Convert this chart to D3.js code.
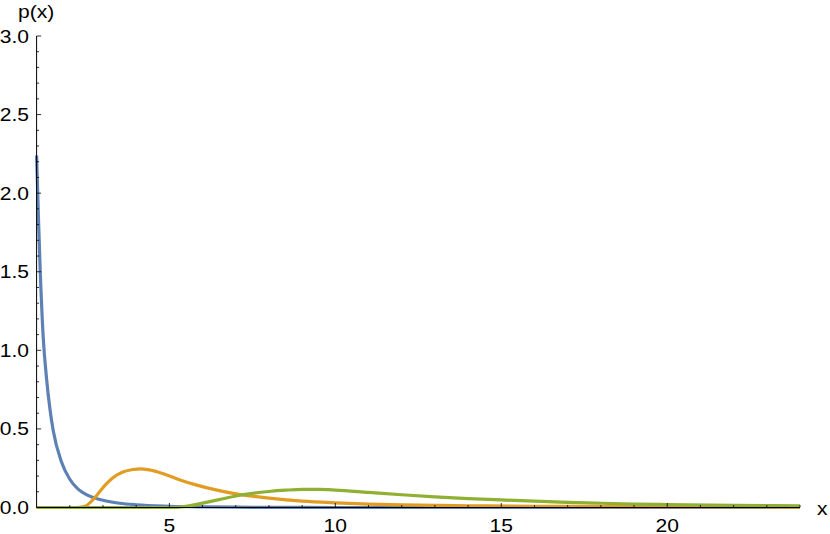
<!DOCTYPE html>
<html><head><meta charset="utf-8">
<script src="https://cdn.jsdelivr.net/npm/d3@7"></script>
<style>
html,body{margin:0;padding:0;background:#fff;}
svg{display:block;font-family:"Liberation Sans",Arial,sans-serif;}
</style></head>
<body>
<svg id="c" width="830" height="534"></svg>
<script>
// ---- data ----
const blueX = [1, 1.05, 1.1, 1.2, 1.3, 1.4, 1.5, 1.75, 2, 2.25, 2.5, 3, 3.5, 4, 5, 6, 7, 8, 10, 24];
const blueY = [2.24, 1.88, 1.56, 1.08, 0.82, 0.63, 0.49, 0.29, 0.18, 0.117, 0.082, 0.046, 0.027, 0.017, 0.008, 0.004, 0.002, 0.001, 0, 0];

const orangeX = [1, 2.2, 2.35, 2.5, 2.7, 2.9, 3.1, 3.3, 3.6, 3.9, 4.15, 4.5, 4.9, 5.3, 5.8, 6.4, 7, 7.5, 8, 9, 10, 11, 12, 14, 16, 18, 20, 24];
const orangeY = [0, 0, 0.002, 0.012, 0.05, 0.1, 0.15, 0.19, 0.226, 0.242, 0.246, 0.235, 0.209, 0.177, 0.144, 0.112, 0.087, 0.072, 0.06, 0.041, 0.03, 0.022, 0.017, 0.011, 0.008, 0.006, 0.005, 0.003];

const greenX = [1, 5.0, 5.3, 5.6, 6.0, 6.5, 7.0, 7.5, 8.0, 8.5, 9.0, 9.5, 10, 11, 12, 13, 14, 15, 16, 17, 18, 19, 20, 22, 24];
const greenY = [0, 0, 0.002, 0.01, 0.028, 0.05, 0.073, 0.09, 0.102, 0.11, 0.115, 0.115, 0.111, 0.096, 0.081, 0.068, 0.057, 0.048, 0.04, 0.033, 0.027, 0.022, 0.019, 0.014, 0.011];

const xMajorTicks = [5, 10, 15, 20];
const yMajorTicks = [0, 0.5, 1.0, 1.5, 2.0, 2.5, 3.0];
const xLabel = "x";
const yLabel = "p(x)";

const series = [
  {name: "blue", xs: blueX, ys: blueY, color: "#5E81B5"},
  {name: "orange", xs: orangeX, ys: orangeY, color: "#E19C24"},
  {name: "green", xs: greenX, ys: greenY, color: "#8FB032"}
];

// ---- layout ----
const svg = d3.select("#c");
const x = d3.scaleLinear().domain([1, 24]).range([36.6, 800]);
const y = d3.scaleLinear().domain([0, 3]).range([507.5, 36]);
const FS = 18, SX = 1.17;

const line = d3.line().x(d => x(d[0])).y(d => y(d[1])).curve(d3.curveMonotoneX);

const plot = svg.append("g");
series.forEach(s => {
  const pts = s.xs.map((v, i) => [v, s.ys[i]]);
  plot.append("path").datum(pts)
    .attr("d", line)
    .attr("fill", "none")
    .attr("stroke", s.color)
    .attr("stroke-width", 3.2)
    .attr("stroke-linejoin", "round")
    .attr("stroke-linecap", "butt");
});

// ---- axes ----
const axes = svg.append("g").attr("stroke", "#000");
axes.append("line").attr("x1", x(1)).attr("x2", x(1)).attr("y1", y(0)).attr("y2", y(3)).attr("stroke-width", 1);
axes.append("line").attr("x1", x(1)).attr("x2", x(24)).attr("y1", y(0)).attr("y2", y(0)).attr("stroke-width", 1);

const yMinor = d3.range(0, 31).map(i => i / 10);
yMinor.forEach(v => {
  const major = yMajorTicks.some(m => Math.abs(m - v) < 1e-9);
  axes.append("line")
    .attr("x1", x(1)).attr("x2", x(1) + (major ? 4.5 : 2.5))
    .attr("y1", y(v)).attr("y2", y(v))
    .attr("stroke-width", 0.8);
});
const xMinor = d3.range(2, 25);
xMinor.forEach(v => {
  const major = xMajorTicks.includes(v);
  axes.append("line")
    .attr("x1", x(v)).attr("x2", x(v))
    .attr("y1", y(0)).attr("y2", y(0) - (major ? 4.5 : 2.5))
    .attr("stroke-width", 0.8);
});

// text helper: wide-set labels
function label(g, tx, ty, str, anchor) {
  return g.append("text")
    .attr("transform", `translate(${tx},${ty}) scale(${SX},1)`)
    .attr("text-anchor", anchor)
    .attr("font-size", FS)
    .attr("fill", "#000")
    .text(str);
}

const fmt = d3.format(".1f");
const gy = svg.append("g");
yMajorTicks.forEach(d => label(gy, 29, y(d) + 6.5, fmt(d), "end"));
const gx = svg.append("g");
xMajorTicks.forEach(d => label(gx, x(d), 531.5, String(d), "middle"));

label(svg, 18, 17.5, yLabel, "start");
label(svg, 817, 515, xLabel, "start");
</script>
</body></html>
